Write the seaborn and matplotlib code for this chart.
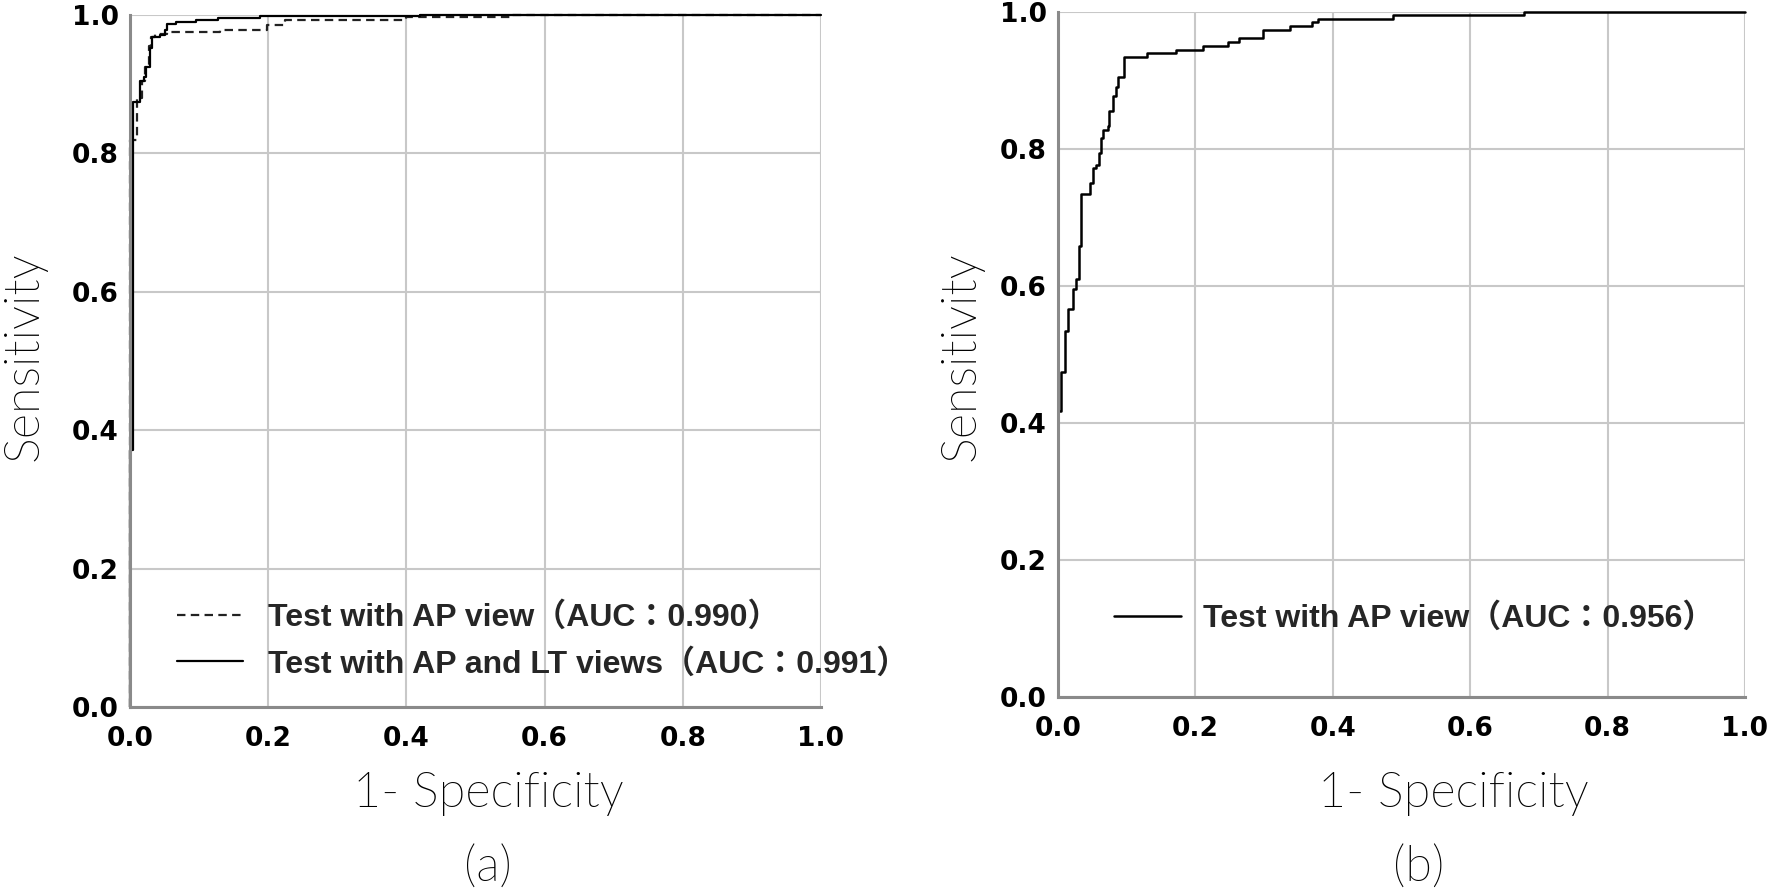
import matplotlib
matplotlib.use("Agg")
import matplotlib.pyplot as plt
from matplotlib import font_manager
from matplotlib.font_manager import FontProperties
import seaborn as sns

# ROC corner points (x = 1 - specificity, y = sensitivity)
ap_fpr_a = [0.0, 0.0, 0.0096, 0.018, 0.022, 0.027, 0.030, 0.036, 0.053, 0.130, 0.198, 0.225, 0.400, 0.550, 1.0]
ap_tpr_a = [0.0, 0.819, 0.880, 0.905, 0.925, 0.955, 0.968, 0.972, 0.976, 0.979, 0.986, 0.993, 0.997, 1.0, 1.0]

aplt_fpr_a = [0.0, 0.0, 0.005, 0.0145, 0.020, 0.023, 0.029, 0.032, 0.043, 0.051, 0.054, 0.067, 0.096, 0.128, 0.188, 0.420, 1.0]
aplt_tpr_a = [0.0, 0.371, 0.875, 0.904, 0.911, 0.925, 0.952, 0.968, 0.971, 0.978, 0.987, 0.990, 0.993, 0.996, 0.998, 1.0, 1.0]

ap_fpr_b = [0.0, 0.0, 0.005, 0.0097, 0.0146, 0.022, 0.026, 0.030, 0.034, 0.046, 0.051, 0.055, 0.060, 0.062,
            0.066, 0.073, 0.074, 0.080, 0.085, 0.088, 0.096, 0.130, 0.172, 0.211, 0.248, 0.263, 0.298,
            0.338, 0.370, 0.378, 0.488, 0.678, 1.0]
ap_tpr_b = [0.0, 0.417, 0.475, 0.534, 0.566, 0.596, 0.610, 0.659, 0.735, 0.750, 0.772, 0.777, 0.794, 0.816,
            0.828, 0.833, 0.855, 0.877, 0.890, 0.905, 0.934, 0.940, 0.945, 0.951, 0.956, 0.962, 0.973,
            0.979, 0.985, 0.990, 0.995, 1.0, 1.0]

label_ap_a = "Test with AP view（AUC：0.990）"
label_aplt_a = "Test with AP and LT views（AUC：0.991）"
label_ap_b = "Test with AP view（AUC：0.956）"
ticks = [0.0, 0.2, 0.4, 0.6, 0.8, 1.0]
tick_labels = ["0.0", "0.2", "0.4", "0.6", "0.8", "1.0"]

sns.set_theme(style="whitegrid")


def light_font(size):
    # thin geometric face for the axis titles: a 300-weight Lato if one is installed
    lato = [f for f in font_manager.fontManager.ttflist
            if f.name == "Lato" and f.style == "normal" and 250 <= int(f.weight) <= 350]
    if lato:
        return FontProperties(fname=lato[0].fname, size=size)
    return FontProperties(family=["Lato", "DejaVu Sans"], size=size)


legend_font = FontProperties(family=["Liberation Sans", "Noto Sans CJK JP"], weight="bold", size=23)
label_font = light_font(35)
tick_font = FontProperties(family=["DejaVu Sans"], weight="bold", size=19)

fig = plt.figure(figsize=(17.7, 8.91), dpi=100)
ax_a = fig.add_axes([130 / 1770, 184 / 891, 691 / 1770, 692 / 891])
ax_b = fig.add_axes([1058 / 1770, 194 / 891, 687 / 1770, 685 / 891])

sns.lineplot(x=ap_fpr_a, y=ap_tpr_a, ax=ax_a, estimator=None, sort=False, drawstyle="steps-post",
             color="#222222", linewidth=1.6, linestyle=(0, (3.8, 2.4)), label=label_ap_a, clip_on=False)
sns.lineplot(x=aplt_fpr_a, y=aplt_tpr_a, ax=ax_a, estimator=None, sort=False, drawstyle="steps-post",
             color="black", linewidth=1.6, label=label_aplt_a, clip_on=False)
sns.lineplot(x=ap_fpr_b, y=ap_tpr_b, ax=ax_b, estimator=None, sort=False, drawstyle="steps-post",
             color="black", linewidth=1.8, label=label_ap_b, clip_on=False)

for ax in (ax_a, ax_b):
    ax.set_xlim(0, 1)
    ax.set_ylim(0, 1)
    ax.set_xticks(ticks)
    ax.set_yticks(ticks)
    ax.set_xticklabels(tick_labels, fontproperties=tick_font, color="black")
    ax.set_yticklabels(tick_labels, fontproperties=tick_font, color="black")
    ax.tick_params(axis="x", length=0, pad=14)
    ax.tick_params(axis="y", length=0, pad=8)
    ax.grid(True, color="#c8c8c8", linewidth=1.5)
    ax.set_facecolor("white")
    for side in ("top", "right"):
        ax.spines[side].set_visible(False)
    for side in ("left", "bottom"):
        ax.spines[side].set_visible(True)
        ax.spines[side].set_color("#8a8a8a")
        ax.spines[side].set_linewidth(2.2)
    ax.set_xlabel("1- Specificity", fontproperties=label_font, color="black")
    ax.set_ylabel("Sensitivity", fontproperties=label_font, color="black")

ax_a.xaxis.set_label_coords(0.518, -0.0925)
ax_a.yaxis.set_label_coords(-0.121, 0.507)
ax_b.xaxis.set_label_coords(0.576, -0.108)
ax_b.yaxis.set_label_coords(-0.108, 0.498)

ax_a.legend(loc="lower left", bbox_to_anchor=(0.068, 0.040), frameon=False, prop=legend_font,
            borderpad=0, borderaxespad=0, handlelength=2.06, handletextpad=0.8, labelspacing=0.5)
ax_b.legend(loc="lower left", bbox_to_anchor=(0.0815, 0.092), frameon=False, prop=legend_font,
            borderpad=0, borderaxespad=0, handlelength=2.1, handletextpad=0.7)

fig.text(488 / 1770, 1 - 867 / 891, "(a)", ha="center", va="center", fontproperties=label_font, color="black")
fig.text(1419 / 1770, 1 - 867 / 891, "(b)", ha="center", va="center", fontproperties=label_font, color="black")

fig.savefig("out.png", dpi=100, facecolor="white")
